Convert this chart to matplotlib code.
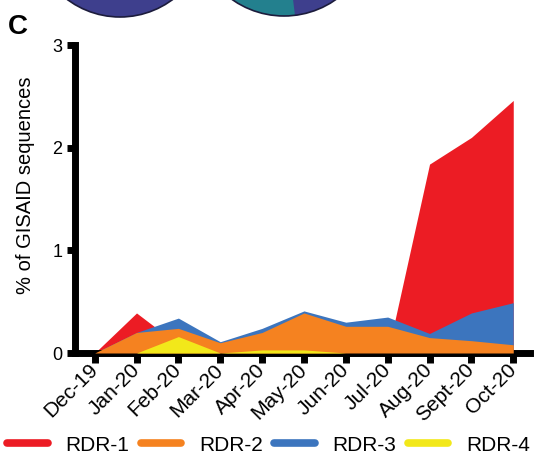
import matplotlib
matplotlib.use("Agg")
import matplotlib.pyplot as plt
from matplotlib.patches import Circle, Wedge
import numpy as np

plt.rcParams["font.family"] = ["Liberation Sans", "DejaVu Sans"]

# data (% of GISAID sequences)
months = ["Dec-19", "Jan-20", "Feb-20", "Mar-20", "Apr-20", "May-20",
          "Jun-20", "Jul-20", "Aug-20", "Sept-20", "Oct-20"]
rdr1 = [0, 0.39, 0.08, 0.02, 0.02, 0.02, 0.02, 0.0, 1.84, 2.10, 2.46]
rdr2 = [0, 0.20, 0.24, 0.10, 0.20, 0.39, 0.26, 0.26, 0.15, 0.12, 0.08]
rdr3 = [0, 0.20, 0.34, 0.11, 0.24, 0.41, 0.30, 0.35, 0.19, 0.39, 0.49]
rdr4 = [0, 0.0, 0.16, 0.0, 0.03, 0.03, 0.0, 0.0, 0.0, 0.0, 0.0]

names = ["RDR-1", "RDR-2", "RDR-3", "RDR-4"]
colors = ["#ec1c24", "#f58220", "#3c75be", "#f2e81a"]

W, H = 537, 458
fig = plt.figure(figsize=(W / 100, H / 100), dpi=100)

# background layer in pixel units for the cropped pies of the panel above
bg = fig.add_axes([0, 0, 1, 1])
bg.set_xlim(0, W)
bg.set_ylim(H, 0)
bg.axis("off")
bg.add_patch(Circle((120, -71), 88, facecolor="#3e3f8d", edgecolor="#1c1c3c", lw=1.2))
bg.add_patch(Circle((284, -74), 90, facecolor="#3e3f8d", edgecolor="none"))
bg.add_patch(Wedge((284, -74), 90, 83, 200, facecolor="#23808e", edgecolor="none"))
bg.add_patch(Circle((284, -74), 90, facecolor="none", edgecolor="#1c1c3c", lw=1.2))
bg.text(8, 34, "C", fontsize=20, fontweight="bold", va="baseline")

ax = fig.add_axes([75 / W, 1 - 353 / H, (530 - 75) / W, (353 - 45) / H])

x = np.arange(len(months))
# overlapping areas, red at the back
ax.fill_between(x, 0, rdr1, color=colors[0], lw=0, zorder=1)
ax.fill_between(x, 0, rdr3, color=colors[2], lw=0, zorder=2)
ax.fill_between(x, 0, rdr2, color=colors[1], lw=0, zorder=3)
ax.fill_between(x, 0, rdr4, color=colors[3], lw=0, zorder=4)

ax.set_xlim(-0.47, 10.4)
ax.set_ylim(0, 3)
ax.set_yticks([0, 1, 2, 3])
ax.set_xticks(x)
ax.set_xticklabels(months, rotation=45, ha="right", va="center",
                   rotation_mode="anchor", fontsize=15)
ax.tick_params(axis="y", labelsize=13, width=5, length=6, pad=3)
ax.tick_params(axis="x", width=5, length=7, pad=3)
for s in ["top", "right"]:
    ax.spines[s].set_visible(False)
for s in ["left", "bottom"]:
    ax.spines[s].set_linewidth(5)
ax.set_ylabel("% of GISAID sequences", fontsize=14.5)
ax.yaxis.set_label_coords(-0.088, 0.545)

# legend
handles = [plt.Line2D([], [], color=c, lw=5.5, solid_capstyle="round") for c in colors]
fig.legend(handles, names, loc="center", bbox_to_anchor=(0.5, 0.028), ncol=4,
           frameon=False, fontsize=15, handlelength=1.95, handletextpad=0.85,
           columnspacing=0.55)

fig.savefig("out.png", dpi=100)
